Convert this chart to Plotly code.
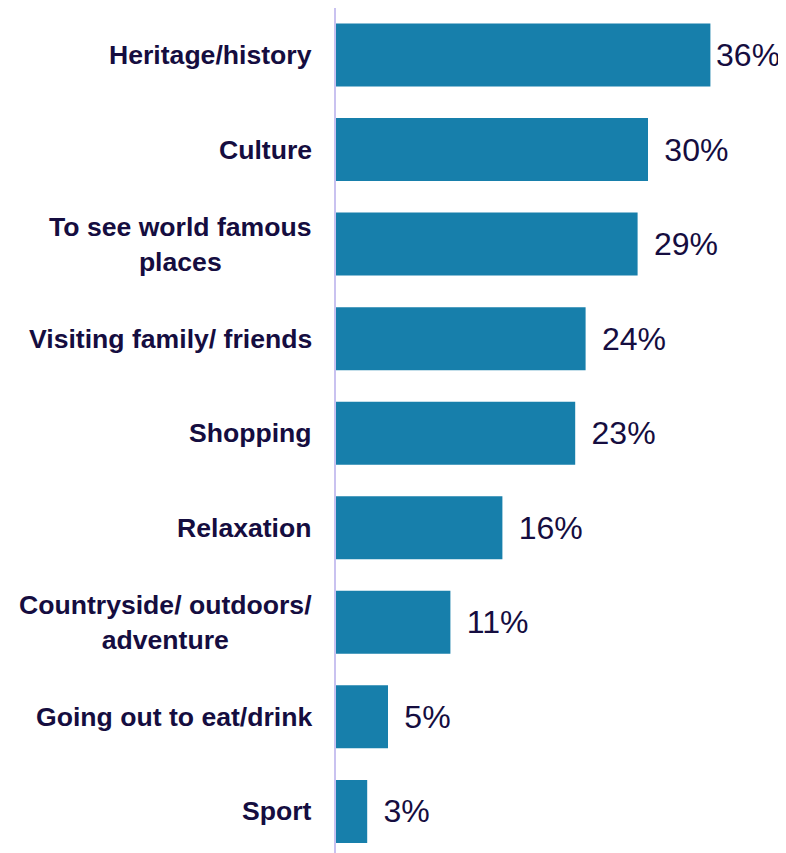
import plotly.graph_objects as go

categories = [
    "Heritage/history",
    "Culture",
    "To see world famous<br>places",
    "Visiting family/ friends",
    "Shopping",
    "Relaxation",
    "Countryside/ outdoors/<br>adventure",
    "Going out to eat/drink",
    "Sport",
]
values = [36, 30, 29, 24, 23, 16, 11, 5, 3]

BAR = "#177fab"
TXT = "#150d40"
FONT = "Liberation Sans, Arial, sans-serif"

# the longest bar's label is nudged closer so it stays inside the frame
labels = [("\u200a" if v == max(values) else "\u2004\u200a") + f"{v}%" for v in values]

fig = go.Figure()
fig.add_trace(go.Bar(
    x=values,
    y=list(range(len(categories))),
    orientation="h",
    marker=dict(color=BAR, line=dict(width=0)),
    text=labels,
    textposition="outside",
    textfont=dict(family=FONT, size=32, color=TXT),
    constraintext="none",
    cliponaxis=False,
    hoverinfo="skip",
))

for i, c in enumerate(categories):
    fig.add_annotation(
        x=0, xref="paper", y=i, yref="y",
        text=f"<b>{c}</b>", showarrow=False,
        xanchor="right", yanchor="middle", align="center",
        xshift=-22,
        font=dict(family=FONT, size=26.6, color=TXT),
    )

fig.update_layout(
    width=786, height=853,
    margin=dict(l=328, r=42, t=0, b=8),
    paper_bgcolor="white", plot_bgcolor="white",
    bargap=0.334,
    showlegend=False,
    xaxis=dict(range=[0, 40], visible=False, fixedrange=True),
    yaxis=dict(
        range=[8.44, -0.497],
        showticklabels=False, showgrid=False, zeroline=False,
        showline=True, linecolor="#c9c2f0", linewidth=1.5,
        ticks="",
    ),
)

fig.write_html("out.html")
